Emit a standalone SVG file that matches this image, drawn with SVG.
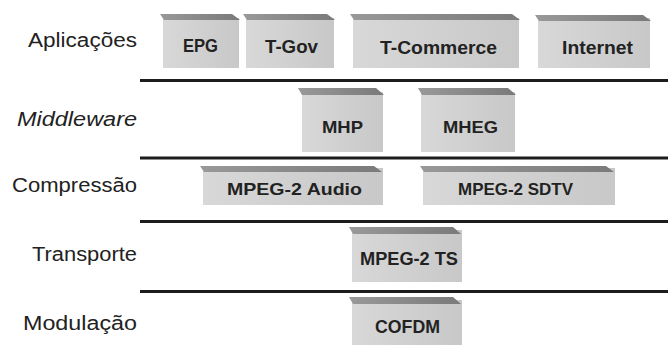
<svg xmlns="http://www.w3.org/2000/svg" width="668" height="360" viewBox="0 0 668 360">
<style>
.lbl{font-family:"Liberation Sans",Arial,sans-serif;font-size:20px;fill:#222;text-anchor:end}
.it{font-style:italic}
.body{fill:url(#bodyGrad)}
.top{fill:url(#topGrad)}
.bt{font-family:"Liberation Sans",Arial,sans-serif;font-weight:bold;fill:#222;text-anchor:middle}
.sep{stroke:#1c1c1c;stroke-width:3}
</style>
<defs>
<linearGradient id="bodyGrad" x1="0" y1="0" x2="1" y2="0">
<stop offset="0" stop-color="#d8d8d8"/>
<stop offset="1" stop-color="#c8c8c8"/>
</linearGradient>
<linearGradient id="topGrad" x1="0" y1="0" x2="1" y2="0">
<stop offset="0" stop-color="#999"/>
<stop offset="1" stop-color="#7a7a7a"/>
</linearGradient>
</defs>
<rect width="668" height="360" fill="#fff"/>
<g id="labels">
<text class="lbl" x="137" y="47" textLength="109" lengthAdjust="spacingAndGlyphs">Aplicações</text>
<text class="lbl it" x="137" y="126" textLength="120" lengthAdjust="spacingAndGlyphs">Middleware</text>
<text class="lbl" x="137" y="192" textLength="125" lengthAdjust="spacingAndGlyphs">Compressão</text>
<text class="lbl" x="137" y="261" textLength="105" lengthAdjust="spacingAndGlyphs">Transporte</text>
<text class="lbl" x="137" y="330" textLength="114" lengthAdjust="spacingAndGlyphs">Modulação</text>
</g>
<g id="connectors">
<line class="sep" x1="140" y1="80.5" x2="668" y2="80.5"/>
<line class="sep" x1="140" y1="158" x2="668" y2="158"/>
<line class="sep" x1="140" y1="221.5" x2="668" y2="221.5"/>
<line class="sep" x1="140" y1="291.5" x2="668" y2="291.5"/>
</g>
<g id="epg">
<rect class="body" x="163" y="18" width="76" height="50"/>
<polygon class="top" points="160,14 232,14 240,20 164,20"/>
<text class="bt" x="200.5" y="52" font-size="18" textLength="35" lengthAdjust="spacingAndGlyphs">EPG</text>
</g>
<g id="tgov">
<rect class="body" x="246" y="18" width="88" height="50"/>
<polygon class="top" points="243,14 327,14 335,20 247,20"/>
<text class="bt" x="291.5" y="53" font-size="18" textLength="53" lengthAdjust="spacingAndGlyphs">T-Gov</text>
</g>
<g id="tcommerce">
<rect class="body" x="353" y="18" width="166" height="50"/>
<polygon class="top" points="350,14 512,14 520,20 354,20"/>
<text class="bt" x="438.5" y="54" font-size="18" textLength="117" lengthAdjust="spacingAndGlyphs">T-Commerce</text>
</g>
<g id="internet">
<rect class="body" x="538" y="18" width="112" height="50"/>
<polygon class="top" points="535,15 643,15 651,21 539,21"/>
<text class="bt" x="597.5" y="54" font-size="18" textLength="71" lengthAdjust="spacingAndGlyphs">Internet</text>
</g>
<g id="mhp">
<rect class="body" x="302" y="92" width="81" height="60"/>
<polygon class="top" points="298,88 376,88 384,95 302,95"/>
<text class="bt" x="342.5" y="133" font-size="17" textLength="41" lengthAdjust="spacingAndGlyphs">MHP</text>
</g>
<g id="mheg">
<rect class="body" x="421" y="92" width="94" height="60"/>
<polygon class="top" points="418,88 508,88 516,95 422,95"/>
<text class="bt" x="470.5" y="133" font-size="17" textLength="55" lengthAdjust="spacingAndGlyphs">MHEG</text>
</g>
<g id="mpeg2audio">
<rect class="body" x="203" y="168" width="180" height="37"/>
<polygon class="top" points="200,166 374,166 382,172 204,172"/>
<text class="bt" x="294.5" y="195" font-size="17" textLength="135" lengthAdjust="spacingAndGlyphs">MPEG-2 Audio</text>
</g>
<g id="mpeg2sdtv">
<rect class="body" x="423" y="168" width="192" height="37"/>
<polygon class="top" points="420,166 606,166 614,172 424,172"/>
<text class="bt" x="515.5" y="195" font-size="17" textLength="115" lengthAdjust="spacingAndGlyphs">MPEG-2 SDTV</text>
</g>
<g id="mpeg2ts">
<rect class="body" x="352" y="230" width="110" height="52"/>
<polygon class="top" points="349,227 453,227 461,234 353,234"/>
<text class="bt" x="409" y="265" font-size="18" textLength="98" lengthAdjust="spacingAndGlyphs">MPEG-2 TS</text>
</g>
<g id="cofdm">
<rect class="body" x="352" y="300" width="110" height="45"/>
<polygon class="top" points="349,297 453,297 461,304 353,304"/>
<text class="bt" x="407.5" y="333" font-size="18" textLength="65" lengthAdjust="spacingAndGlyphs">COFDM</text>
</g>
</svg>
